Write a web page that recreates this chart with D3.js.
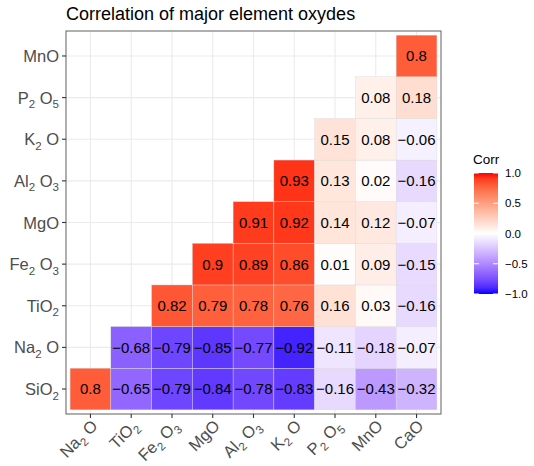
<!DOCTYPE html>
<html>
<head>
<meta charset="utf-8">
<script src="https://cdn.jsdelivr.net/npm/d3@7"></script>
<style>
  body { margin: 0; background: #fff; }
  text { font-family: "Liberation Sans", Arial, Helvetica, sans-serif; }
</style>
</head>
<body>
<div id="chart"></div>
<script>
const width = 534;
const height = 466;
const margin = { top: 31, right: 93, bottom: 52, left: 66 };

// x categories (left to right) and y categories (bottom to top)
const xVars = ["Na2O", "TiO2", "Fe2O3", "MgO", "Al2O3", "K2O", "P2O5", "MnO", "CaO"];
const yVars = ["SiO2", "Na2O", "TiO2", "Fe2O3", "MgO", "Al2O3", "K2O", "P2O5", "MnO"];

// correlation values, one row per y variable, starting at the diagonal column
const rowSiO2  = [0.8, -0.65, -0.79, -0.84, -0.78, -0.83, -0.16, -0.43, -0.32];
const rowNa2O  = [-0.68, -0.79, -0.85, -0.77, -0.92, -0.11, -0.18, -0.07];
const rowTiO2  = [0.82, 0.79, 0.78, 0.76, 0.16, 0.03, -0.16];
const rowFe2O3 = [0.9, 0.89, 0.86, 0.01, 0.09, -0.15];
const rowMgO   = [0.91, 0.92, 0.14, 0.12, -0.07];
const rowAl2O3 = [0.93, 0.13, 0.02, -0.16];
const rowK2O   = [0.15, 0.08, -0.06];
const rowP2O5  = [0.08, 0.18];
const rowMnO   = [0.8];
const rows = [rowSiO2, rowNa2O, rowTiO2, rowFe2O3, rowMgO, rowAl2O3, rowK2O, rowP2O5, rowMnO];

const legendTicks = [1.0, 0.5, 0.0, -0.5, -1.0];

// formula pieces: [text, isSubscript]
const labelParts = {
  SiO2: [["SiO", 0], ["2", 1]],
  Na2O: [["Na", 0], ["2", 1], [" O", 0]],
  TiO2: [["TiO", 0], ["2", 1]],
  Fe2O3: [["Fe", 0], ["2", 1], [" O", 0], ["3", 1]],
  MgO: [["MgO", 0]],
  Al2O3: [["Al", 0], ["2", 1], [" O", 0], ["3", 1]],
  K2O: [["K", 0], ["2", 1], [" O", 0]],
  P2O5: [["P", 0], ["2", 1], [" O", 0], ["5", 1]],
  MnO: [["MnO", 0]],
  CaO: [["CaO", 0]]
};

const cells = [];
rows.forEach((row, i) => {
  row.forEach((v, k) => {
    cells.push({ x: xVars[i + k], y: yVars[i], value: v });
  });
});

const innerWidth = width - margin.left - margin.right;
const innerHeight = height - margin.top - margin.bottom;

const svg = d3.select("#chart")
  .append("svg")
  .attr("width", width)
  .attr("height", height);

// ggplot style discrete expansion: 0.6 units each side
const xUnit = innerWidth / (xVars.length - 1 + 1.2);
const yUnit = innerHeight / (yVars.length - 1 + 1.2);

const x = d3.scalePoint()
  .domain(xVars)
  .range([margin.left + 0.6 * xUnit, margin.left + innerWidth - 0.6 * xUnit]);

const y = d3.scalePoint()
  .domain(yVars)
  .range([margin.top + innerHeight - 0.6 * yUnit, margin.top + 0.6 * yUnit]);

const color = d3.scaleLinear()
  .domain([-1, 0, 1])
  .range(["blue", "white", "red"])
  .interpolate(d3.interpolateLab);

// grid
const grid = svg.append("g");
grid.selectAll("line.vx")
  .data(xVars)
  .enter()
  .append("line")
  .attr("x1", d => x(d)).attr("x2", d => x(d))
  .attr("y1", margin.top).attr("y2", margin.top + innerHeight)
  .attr("stroke", "#EBEBEB")
  .attr("stroke-width", 1.1);
grid.selectAll("line.hy")
  .data(yVars)
  .enter()
  .append("line")
  .attr("y1", d => y(d)).attr("y2", d => y(d))
  .attr("x1", margin.left).attr("x2", margin.left + innerWidth)
  .attr("stroke", "#EBEBEB")
  .attr("stroke-width", 1.1);

// tiles
const tiles = svg.append("g");
tiles.selectAll("rect")
  .data(cells)
  .enter()
  .append("rect")
  .attr("x", d => x(d.x) - xUnit / 2)
  .attr("y", d => y(d.y) - yUnit / 2)
  .attr("width", xUnit)
  .attr("height", yUnit)
  .attr("fill", d => color(d.value))
  .attr("stroke", "#D9D9D9")
  .attr("stroke-width", 0.4);

const fmt = v => (v < 0 ? "\u2212" : "") + String(Math.abs(v));

tiles.selectAll("text")
  .data(cells)
  .enter()
  .append("text")
  .attr("x", d => x(d.x))
  .attr("y", d => y(d.y))
  .attr("dy", "0.36em")
  .attr("text-anchor", "middle")
  .attr("font-size", 15)
  .attr("fill", "black")
  .text(d => fmt(d.value));

// panel border
svg.append("rect")
  .attr("x", margin.left)
  .attr("y", margin.top)
  .attr("width", innerWidth)
  .attr("height", innerHeight)
  .attr("fill", "none")
  .attr("stroke", "#6E6E6E")
  .attr("stroke-width", 1.1);

const addFormula = (sel, name) => {
  const parts = labelParts[name];
  let shifted = false;
  parts.forEach(([t, sub]) => {
    const ts = sel.append("tspan").text(t);
    if (sub) {
      ts.attr("font-size", 11.5).attr("dy", 4.5);
      shifted = true;
    } else {
      ts.attr("font-size", 16.5);
      if (shifted) { ts.attr("dy", -4.5); shifted = false; }
    }
  });
};

// y axis
const yAxis = svg.append("g");
yVars.forEach(v => {
  yAxis.append("line")
    .attr("x1", margin.left - 4).attr("x2", margin.left)
    .attr("y1", y(v)).attr("y2", y(v))
    .attr("stroke", "#333333")
    .attr("stroke-width", 1.1);
  const t = yAxis.append("text")
    .attr("x", margin.left - 7)
    .attr("y", y(v) + 6)
    .attr("text-anchor", "end")
    .attr("fill", "#4D4D4D");
  addFormula(t, v);
});

// x axis
const xAxis = svg.append("g");
const axisY = margin.top + innerHeight;
xVars.forEach(v => {
  xAxis.append("line")
    .attr("x1", x(v)).attr("x2", x(v))
    .attr("y1", axisY).attr("y2", axisY + 4)
    .attr("stroke", "#333333")
    .attr("stroke-width", 1.1);
  const ax = x(v) + 8;
  const ay = axisY + 13;
  const t = xAxis.append("text")
    .attr("x", ax)
    .attr("y", ay)
    .attr("text-anchor", "end")
    .attr("transform", `rotate(-45, ${ax}, ${ay})`)
    .attr("fill", "#4D4D4D");
  addFormula(t, v);
});

// title
svg.append("text")
  .attr("x", margin.left)
  .attr("y", 20)
  .attr("font-size", 18)
  .attr("fill", "black")
  .text("Correlation of major element oxydes");

// legend
const legX = 474, legW = 24, legTop = 173, legBottom = 294;
const legScale = d3.scaleLinear().domain([-1, 1]).range([legBottom, legTop]);

const defs = svg.append("defs");
const grad = defs.append("linearGradient")
  .attr("id", "corr-grad")
  .attr("x1", 0).attr("x2", 0).attr("y1", 1).attr("y2", 0);
d3.range(-1, 1.001, 0.1).forEach(v => {
  grad.append("stop")
    .attr("offset", (v + 1) / 2)
    .attr("stop-color", color(v));
});

const legend = svg.append("g").attr("id", "legend");
legend.append("text")
  .attr("x", legX - 1)
  .attr("y", 164)
  .attr("font-size", 13.5)
  .attr("fill", "black")
  .text("Corr");
legend.append("rect")
  .attr("x", legX)
  .attr("y", legTop)
  .attr("width", legW)
  .attr("height", legBottom - legTop)
  .attr("fill", "url(#corr-grad)");
legendTicks.forEach(v => {
  legend.append("line")
    .attr("x1", legX).attr("x2", legX + 5)
    .attr("y1", legScale(v)).attr("y2", legScale(v))
    .attr("stroke", "white").attr("stroke-width", 1);
  legend.append("line")
    .attr("x1", legX + legW - 5).attr("x2", legX + legW)
    .attr("y1", legScale(v)).attr("y2", legScale(v))
    .attr("stroke", "white").attr("stroke-width", 1);
  legend.append("text")
    .attr("x", legX + legW + 7)
    .attr("y", legScale(v))
    .attr("dy", "0.36em")
    .attr("font-size", 11.5)
    .attr("fill", "black")
    .text(v < 0 ? "\u2212" + Math.abs(v).toFixed(1) : v.toFixed(1));
});
</script>
</body>
</html>
